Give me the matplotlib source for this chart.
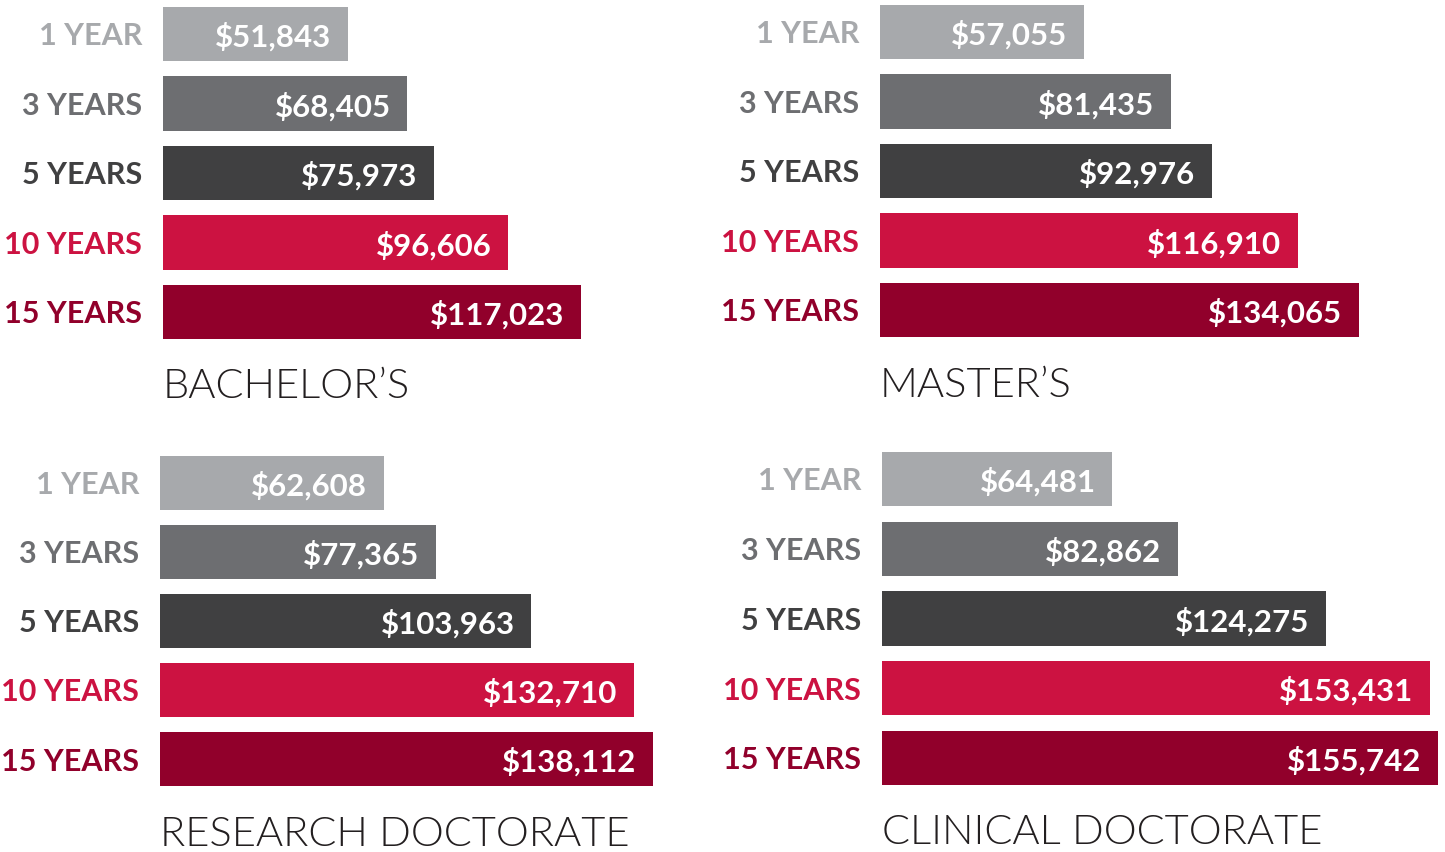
import matplotlib.pyplot as plt

# data
years = ['1 YEAR', '3 YEARS', '5 YEARS', '10 YEARS', '15 YEARS']
bachelors = [51843, 68405, 75973, 96606, 117023]
masters = [57055, 81435, 92976, 116910, 134065]
research = [62608, 77365, 103963, 132710, 138112]
clinical = [64481, 82862, 124275, 153431, 155742]
titles = ["BACHELOR\u2019S", "MASTER\u2019S", "RESEARCH DOCTORATE", "CLINICAL DOCTORATE"]

colors = ['#a7a9ac', '#6d6e71', '#404041', '#cc1241', '#91002b']
title_color = '#231f20'

W, H = 1445, 853
ppk = 3.572  # pixels per $1000

# panel placement in pixels: bar start x, top of first bar, bottom of last bar, title center y
panels = [
    (bachelors, titles[0], 163, 8, 340, 387),
    (masters, titles[1], 880, 6, 338, 386),
    (research, titles[2], 160, 457, 787, 835),
    (clinical, titles[3], 882, 453, 786, 833),
]

plt.rcParams['font.family'] = ['Lato', 'DejaVu Sans']
fig = plt.figure(figsize=(W / 100, H / 100), dpi=100)

h = 0.777
for vals, title, x0, top, bot, ty in panels:
    aw = W - x0
    ax = fig.add_axes([x0 / W, 1 - bot / H, aw / W, (bot - top) / H])
    ax.set_xlim(0, aw / ppk * 1000)
    ax.set_ylim(4 + h / 2, -h / 2)
    ax.barh(range(len(vals)), vals, height=h, color=colors)
    for i, v in enumerate(vals):
        ax.annotate('${:,}'.format(v), xy=(v, i), xytext=(-12, -1.5), textcoords='offset points',
                    ha='right', va='center', color='white', fontsize=22.5, fontweight='bold')
        ax.annotate(years[i], xy=(0, i), xytext=(-15, -1), textcoords='offset points',
                    ha='right', va='center', color=colors[i], fontsize=22, fontweight='bold',
                    annotation_clip=False)
    ax.axis('off')
    fig.text(x0 / W, 1 - ty / H, title, ha='left', va='center', fontsize=30,
             fontweight=300, color=title_color)

fig.savefig('out.png', dpi=100)
